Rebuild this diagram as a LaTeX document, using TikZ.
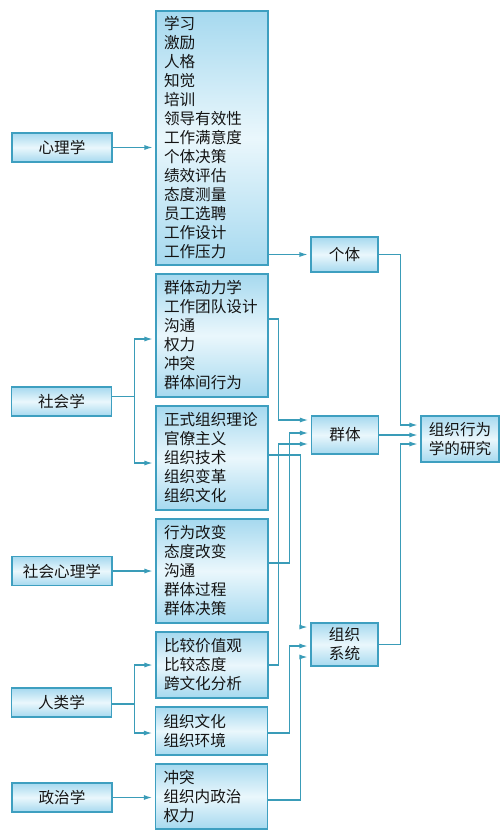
\documentclass[tikz,border=0pt]{standalone}
\usepackage{fontspec}
\setmainfont{Noto Sans CJK SC}
\usetikzlibrary{arrows.meta,calc}
\definecolor{bordc}{HTML}{3E9FC0}
\definecolor{linec}{HTML}{3A9CB8}
\definecolor{fillA}{HTML}{A6D9EF}
\definecolor{fillB}{HTML}{EAF7FC}
\definecolor{txtc}{HTML}{141414}
\tikzset{
  bx/.style={draw=bordc, line width=1.1pt, top color=fillA, bottom color=fillA, middle color=fillB,
    inner sep=0pt, text=txtc, font=\fontsize{15.6}{19}\selectfont},
  src/.style={bx, minimum width=100pt, minimum height=29pt},
  lst/.style={bx, minimum width=112pt, text width=96pt, align=left},
  mid/.style={bx, minimum width=67pt, align=center},
  arr/.style={draw=linec, line width=1.1pt, -{Latex[length=8pt,width=5pt]}, shorten >=3pt},
  ln/.style={draw=linec, line width=1.1pt}
}
\begin{document}
\begin{tikzpicture}[x=1pt,y=-1pt]
\useasboundingbox (0,0) rectangle (500,840);
\fill[white] (0,0) rectangle (500,840);

% source disciplines
\node[src] (L1) at (62,147.5) {心理学};
\node[src] (L2) at (61.5,401.5) {社会学};
\node[src] (L3) at (62,571) {社会心理学};
\node[src] (L4) at (61.5,702.5) {人类学};
\node[src] (L5) at (62,797.5) {政治学};

% topic lists
\node[lst, minimum height=254pt] (P) at (212,138) {学习\\激励\\人格\\知觉\\培训\\领导有效性\\工作满意度\\个体决策\\绩效评估\\态度测量\\员工选聘\\工作设计\\工作压力};
\node[lst, minimum height=123pt] (B1) at (212,335.5) {群体动力学\\工作团队设计\\沟通\\权力\\冲突\\群体间行为};
\node[lst, minimum height=104pt] (B2) at (212,458) {正式组织理论\\官僚主义\\组织技术\\组织变革\\组织文化};
\node[lst, minimum height=104pt] (B3) at (212,571) {行为改变\\态度改变\\沟通\\群体过程\\群体决策};
\node[lst, minimum height=66pt] (B4) at (212,665) {比较价值观\\比较态度\\跨文化分析};
\node[lst, minimum height=48pt] (B5) at (211.5,731) {组织文化\\组织环境};
\node[lst, minimum height=65pt] (B6) at (211.5,796.5) {冲突\\组织内政治\\权力};

% levels
\node[mid, minimum height=35pt] (G) at (344.5,254.5) {个体};
\node[mid, minimum height=38pt] (Q) at (345,435) {群体};
\node[mid, minimum height=43pt] (S) at (344.5,644.5) {组织\\系统};
\node[bx, minimum width=78pt, minimum height=46pt, align=center] (O) at (460,439) {组织行为\\学的研究};

% left connectors
\draw[arr] (L1.east) -- (L1.east -| P.west);
\draw[ln] ([yshift=5pt]L2.east) -- ++(22,0) coordinate (t1);
\draw[arr] (t1) |- ([yshift=-3.5pt]B1.west);
\draw[arr] (t1) |- ([yshift=-5pt]B2.west);
\draw[arr] (L3.east) -- (L3.east -| B3.west);
\draw[ln] ([yshift=-1.5pt]L4.east) -- ++(22,0) coordinate (t2);
\draw[arr] (t2) |- (B4.west);
\draw[arr] (t2) |- ([yshift=-2pt]B5.west);
\draw[arr] (L5.east) -- (L5.east -| B6.west);

% middle connectors
\draw[arr] (P.east |- G.west) -- (G.west);
\draw[arr] ([yshift=16.5pt]B1.east) -- ++(9.5,0) |- ([yshift=15pt]Q.west);
\draw[arr] ([yshift=8pt]B3.east) -- ++(21,0) |- ([yshift=2pt]Q.west);
\draw[arr] (B4.east) -- ++(10,0) |- ([yshift=-9pt]Q.west);
\draw[arr] ([yshift=3pt]B2.east) -- ++(32,0) |- ([yshift=17.5pt]S.west);
\draw[arr] ([yshift=-2pt]B5.east) -- ++(21.5,0) |- ([yshift=-1.5pt]S.west);
\draw[arr] ([yshift=-3.5pt]B6.east) -- ++(32.5,0) |- ([yshift=-12.5pt]S.west);

% right connectors
\draw[arr] (G.east) -- ++(22,0) |- ([yshift=14pt]O.west);
\draw[arr] (Q.east) -- (Q.east -| O.west);
\draw[arr] (S.east) -- ++(22,0) |- ([yshift=-5pt]O.west);
\end{tikzpicture}
\end{document}
